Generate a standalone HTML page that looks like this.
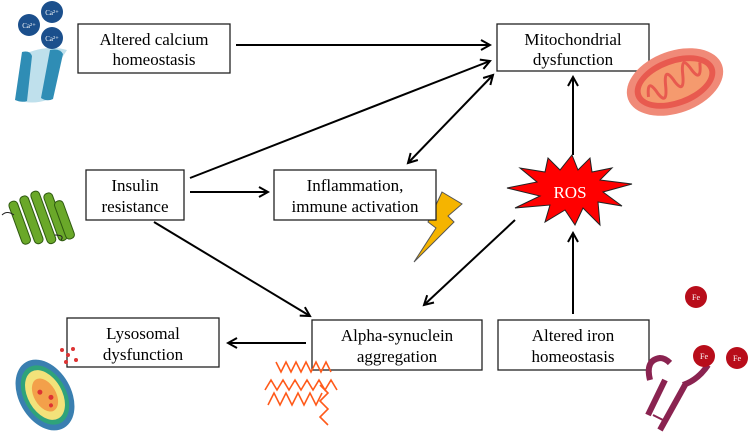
<!DOCTYPE html>
<html><head><meta charset="utf-8"><style>
body{margin:0;background:#fff;width:750px;height:440px;overflow:hidden}
svg{display:block}
text{font-family:"Liberation Serif",serif;font-size:17px;fill:#000;text-anchor:middle}
.b{fill:#fff;stroke:#222;stroke-width:1.3}
.l{stroke:#000;stroke-width:2;fill:none}
</style></head><body>
<svg width="750" height="440" viewBox="0 0 750 440">
<defs><marker id="a" markerWidth="12" markerHeight="12" refX="10" refY="6" orient="auto-start-reverse" markerUnits="userSpaceOnUse"><path d="M1,1 L10,6 L1,11" fill="none" stroke="#000" stroke-width="2"/></marker></defs>
<!-- lightning -->
<polygon points="442,192 462,204 448,216 454,222 414,262 436,228 428,222" fill="#f5b400" stroke="#555" stroke-width="1"/>
<!-- boxes -->
<rect class="b" x="78" y="24" width="152" height="49"/>
<text x="154" y="45">Altered calcium</text><text x="154" y="65">homeostasis</text>
<rect class="b" x="497" y="24" width="152" height="47"/>
<text x="573" y="45">Mitochondrial</text><text x="573" y="65">dysfunction</text>
<rect class="b" x="86" y="170" width="98" height="50"/>
<text x="135" y="191">Insulin</text><text x="135" y="212">resistance</text>
<rect class="b" x="274" y="170" width="162" height="50"/>
<text x="355" y="191">Inflammation,</text><text x="355" y="212">immune activation</text>
<rect class="b" x="67" y="318" width="152" height="49"/>
<text x="143" y="339">Lysosomal</text><text x="143" y="360">dysfunction</text>
<rect class="b" x="312" y="320" width="170" height="50"/>
<text x="397" y="341">Alpha-synuclein</text><text x="397" y="362">aggregation</text>
<rect class="b" x="498" y="320" width="151" height="50"/>
<text x="573" y="341">Altered iron</text><text x="573" y="362">homeostasis</text>
<!-- arrows -->
<line class="l" x1="236" y1="45" x2="490" y2="45" marker-end="url(#a)"/>
<line class="l" x1="190" y1="178" x2="490" y2="61" marker-end="url(#a)"/>
<line class="l" x1="408" y1="163" x2="493" y2="75" marker-end="url(#a)" marker-start="url(#a)"/>
<line class="l" x1="573" y1="155" x2="573" y2="77" marker-end="url(#a)"/>
<line class="l" x1="190" y1="192" x2="268" y2="192" marker-end="url(#a)"/>
<line class="l" x1="154" y1="222" x2="310" y2="316" marker-end="url(#a)"/>
<line class="l" x1="515" y1="220" x2="424" y2="305" marker-end="url(#a)"/>
<line class="l" x1="573" y1="314" x2="573" y2="233" marker-end="url(#a)"/>
<line class="l" x1="306" y1="343" x2="228" y2="343" marker-end="url(#a)"/>
<!-- ROS star -->
<polygon fill="#f00" stroke="#222" stroke-width="1" points="590,158 592,172 612,168 600,180 632,184 603,192 622,206 598,202 600,225 583,208 575,225 565,210 545,222 550,205 515,208 540,196 507,188 537,182 520,168 545,172 548,158 560,170 572,155 578,170"/>
<text x="570" y="198" style="fill:#fff;font-size:17px">ROS</text>
<!-- mitochondrion -->
<g transform="translate(675,82) rotate(-20)">
<ellipse rx="50" ry="31" fill="#f08a78"/>
<ellipse rx="42" ry="24" fill="#e85a4f"/>
<ellipse rx="36" ry="18" fill="#f59a6e"/>
<path d="M-30,5 q5,-20 10,0 q5,15 10,-5 q5,-20 10,0 q5,15 10,-5 q5,-20 10,0 q5,15 10,-5" fill="none" stroke="#e85a4f" stroke-width="3"/>
</g>
<!-- calcium channel -->
<path d="M22,55 q-2,30 -5,45 q15,5 30,0 q0,-20 20,-50 q-20,-6 -45,5z" fill="#bfe0ec"/>
<path d="M22,52 q8,-2 10,4 l-5,45 q-5,2 -12,-1z" fill="#2f8db5"/>
<path d="M50,50 q10,-2 13,4 l-10,45 q-6,3 -12,-1z" fill="#2f8db5"/>
<circle cx="29" cy="25" r="11" fill="#1b4f8c"/><circle cx="52" cy="12" r="11" fill="#1b4f8c"/><circle cx="52" cy="38" r="11" fill="#1b4f8c"/>
<text x="29" y="28" style="fill:#fff;font-size:7px">Ca²⁺</text><text x="52" y="15" style="fill:#fff;font-size:7px">Ca²⁺</text><text x="52" y="41" style="fill:#fff;font-size:7px">Ca²⁺</text>
<!-- receptor green -->
<g fill="#6aa829" stroke="#2f5a10" stroke-width="1">
<rect x="15" y="200" width="9" height="45" rx="4" transform="rotate(-20 20 222)"/>
<rect x="27" y="195" width="9" height="50" rx="4" transform="rotate(-20 31 220)"/>
<rect x="39" y="190" width="9" height="55" rx="4" transform="rotate(-20 43 218)"/>
<rect x="51" y="192" width="9" height="50" rx="4" transform="rotate(-20 55 217)"/>
<rect x="60" y="200" width="9" height="40" rx="4" transform="rotate(-20 64 220)"/>
</g>
<path d="M2,215 q5,-5 12,0 M55,235 q10,0 6,5" stroke="#222" fill="none"/>
<!-- lysosome -->
<g transform="translate(45,395) rotate(-30)">
<ellipse rx="26" ry="38" fill="#3a7fb0"/><ellipse rx="21" ry="32" fill="#2fa37a"/><ellipse rx="17" ry="27" fill="#f3e27a"/><ellipse rx="11" ry="18" fill="#f3a04a"/>
<circle cx="-3" cy="-5" r="2.5" fill="#d33"/><circle cx="4" cy="5" r="2.5" fill="#d33"/><circle cx="0" cy="12" r="2" fill="#d33"/>
</g>
<g fill="#d33"><circle cx="62" cy="350" r="2"/><circle cx="68" cy="355" r="2"/><circle cx="73" cy="349" r="2"/><circle cx="66" cy="362" r="2"/><circle cx="76" cy="360" r="2"/></g>
<!-- zigzag -->
<g stroke="#ff5a1a" stroke-width="1.6" fill="none">
<path d="M276,362 l5,10 l5,-10 l5,10 l5,-10 l5,10 l5,-10 l5,10 l5,-10 l5,10 l5,-10 l5,10"/>
<path d="M265,390 l6,-10 l6,10 l6,-10 l6,10 l6,-10 l6,10 l6,-10 l6,10 l6,-10 l6,10 l6,-10 l6,10"/>
<path d="M268,405 l6,-12 l6,12 l6,-12 l6,12 l6,-12 l6,12 l6,-12 l6,12 l6,-12"/>
<path d="M320,385 l8,8 l-8,8 l8,8 l-8,8 l8,8"/>
</g>
<!-- iron receptor -->
<g stroke="#8a2350" stroke-width="6" fill="none">
<path d="M650,380 q-5,-20 10,-22 q5,0 10,5"/>
<line x1="665" y1="380" x2="648" y2="415"/>
<line x1="685" y1="385" x2="660" y2="430"/>
<path d="M683,385 q15,-5 25,-20"/>
</g>
<line x1="653" y1="415" x2="663" y2="420" stroke="#8a2350" stroke-width="2"/>
<g fill="#b80d1a"><circle cx="696" cy="297" r="11"/><circle cx="704" cy="356" r="11"/><circle cx="737" cy="358" r="11"/></g>
<text x="696" y="300" style="fill:#fff;font-size:8px">Fe</text><text x="704" y="359" style="fill:#fff;font-size:8px">Fe</text><text x="737" y="361" style="fill:#fff;font-size:8px">Fe</text>
</svg>
</body></html>
